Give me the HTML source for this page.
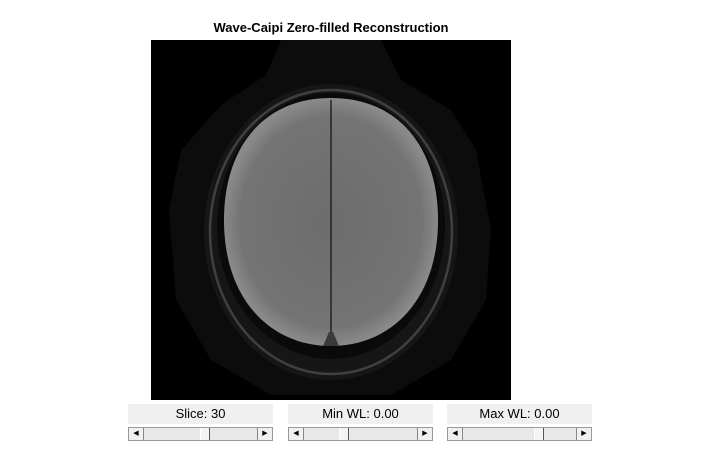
<!DOCTYPE html>
<html><head><meta charset="utf-8"><style>
body{margin:0;width:720px;height:450px;background:#fff;position:relative;overflow:hidden;font-family:"Liberation Sans",sans-serif}
.lbl{position:absolute;top:404px;width:145px;height:20px;background:#f0f0f0;font-size:13px;text-align:center;line-height:20px;color:#000}
.sl{position:absolute;top:427px;width:145px;height:14px;background:#e8e8e8;border:1px solid #999;box-sizing:border-box}
.ar{position:absolute;top:0;width:14px;height:12px;background:#f0f0f0;font-size:7px;line-height:12px;text-align:center;border-right:1px solid #888}
.ar.r{right:0;border-right:none;border-left:1px solid #888}
.th{position:absolute;top:0;width:8px;height:12px;background:#f4f4f4;border-left:1px solid #fff;border-right:1px solid #555}
</style></head><body>
<div style="position:absolute;top:20px;left:0;width:662px;text-align:center;font-weight:bold;font-size:13px">Wave-Caipi Zero-filled Reconstruction</div>
<svg style="position:absolute;left:151px;top:40px" width="360" height="360">
<defs><radialGradient id="g" cx="0.5" cy="0.5" r="0.5"><stop offset="0" stop-color="#6c6c6c"/><stop offset="0.85" stop-color="#747474"/><stop offset="1" stop-color="#8a8a8a"/></radialGradient></defs>
<rect width="360" height="360" fill="#000"/>
<polygon points="130,0 230,0 250,40 300,70 325,110 340,190 335,260 300,320 240,355 120,355 60,320 25,260 18,170 30,110 70,65 115,35" fill="#0c0c0c"/>
<ellipse cx="180" cy="192" rx="127" ry="148" fill="#161616"/>
<ellipse cx="180" cy="192" rx="121" ry="142" fill="none" stroke="#404040" stroke-width="2.5"/>
<ellipse cx="180" cy="186" rx="114" ry="133" fill="#0a0a0a"/>
<path d="M180,58 C250,58 287,110 287,180 C287,260 240,306 180,306 C120,306 73,260 73,180 C73,110 110,58 180,58 Z" fill="url(#g)"/>
<line x1="180" y1="60" x2="180" y2="300" stroke="#222" stroke-width="1.5"/>
<polygon points="178,292 182,292 188,306 172,306" fill="#3a3a3a"/>
</svg>
<div class="lbl" style="left:128px">Slice: 30</div>
<div class="sl" style="left:128px"><div class="ar">◀</div><div class="th" style="left:71px"></div><div class="ar r">▶</div></div>
<div class="lbl" style="left:288px">Min WL: 0.00</div>
<div class="sl" style="left:288px"><div class="ar">◀</div><div class="th" style="left:50px"></div><div class="ar r">▶</div></div>
<div class="lbl" style="left:447px">Max WL: 0.00</div>
<div class="sl" style="left:447px"><div class="ar">◀</div><div class="th" style="left:86px"></div><div class="ar r">▶</div></div>
</body></html>
